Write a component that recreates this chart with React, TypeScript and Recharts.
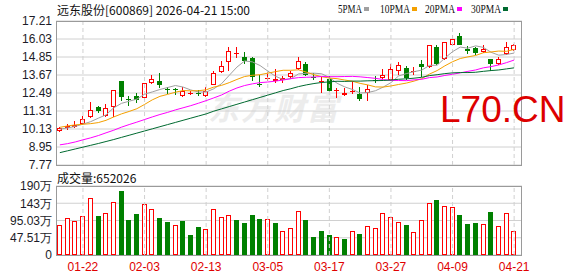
import { Bar, CartesianGrid, ComposedChart, Line, ReferenceLine, XAxis, YAxis } from "recharts";

const dates = [
  "01-19", "01-20", "01-21", "01-22", "01-23", "01-26", "01-27", "01-28", "01-29", "01-30", "02-02", "02-03",
  "02-04", "02-05", "02-06", "02-09", "02-10", "02-11", "02-12", "02-13",
  "02-24", "02-25", "02-26", "02-27", "03-02", "03-03", "03-04", "03-05",
  "03-06", "03-09", "03-10", "03-11", "03-12", "03-13", "03-16", "03-17",
  "03-18", "03-19", "03-20", "03-23", "03-24", "03-25", "03-26", "03-27",
  "03-30", "03-31", "04-01", "04-02", "04-03", "04-07", "04-08", "04-09",
  "04-10", "04-13", "04-14", "04-15", "04-16", "04-17", "04-20", "04-21",
];
const dateTicks = ["01-22", "02-03", "02-13", "03-05", "03-17", "03-27", "04-09", "04-21"];

const opens = [
  10.02, 10.2, 10.28, 10.48, 10.94, 11.55, 10.96, 11.59, 13.28, 12.08, 12.27, 12.14, 13.17, 13.28, 12.72, 12.72, 12.27, 12.44, 12.52, 12.27,
  13.04, 13.84, 14.54, 15.09, 14.83, 14.78, 13.07, 13.41, 13.3, 13.32, 13.54, 14.08, 14.41, 13.51, 13.24, 13.41, 12.62, 12.34, 12.58, 12.42,
  12.49, 13.32, 13.47, 13.32, 13.91, 14.13, 13.89, 14.41, 14.19, 15.5, 14.72, 15.66, 16.2, 15.37, 15.44, 15.18, 14.72, 14.39, 15.05, 15.33,
];
const highs = [
  10.24, 10.46, 10.68, 10.98, 11.9, 11.64, 11.77, 12.7, 13.3, 12.29, 12.51, 13.14, 13.65, 13.8, 12.9, 12.82, 12.9, 12.64, 12.69, 12.86,
  13.95, 14.57, 15.53, 15.5, 15.15, 14.83, 13.69, 13.84, 14.06, 13.62, 13.91, 14.85, 14.5, 13.8, 13.52, 13.62, 12.82, 12.82, 13.25, 12.86,
  12.99, 13.62, 14.08, 14.41, 14.5, 14.24, 14.17, 14.65, 15.63, 15.66, 15.83, 16.31, 16.42, 15.55, 15.53, 15.61, 14.74, 14.83, 15.81, 15.7,
];
const lows = [
  9.96, 10.07, 10.17, 10.41, 10.85, 11.16, 10.92, 10.9, 11.99, 11.64, 11.86, 12.03, 13.06, 12.8, 12.42, 12.38, 12.2, 12.38, 12.31, 12.2,
  12.99, 13.78, 13.95, 14.78, 14.41, 13.25, 12.86, 13.3, 13.14, 13.14, 13.43, 14.02, 13.58, 13.36, 12.49, 12.55, 12.16, 12.32, 12.42, 11.99,
  11.94, 13.14, 13.43, 13.25, 13.69, 13.36, 13.69, 13.52, 14.13, 14.3, 14.67, 15.55, 15.61, 15.05, 14.96, 15.11, 13.91, 14.35, 15.0, 15.27,
];
const closes = [
  10.17, 10.35, 10.38, 10.76, 11.38, 11.31, 11.49, 12.67, 12.21, 12.05, 12.02, 13.12, 13.39, 13.04, 12.66, 12.7, 12.6, 12.46, 12.4, 12.6,
  13.8, 14.24, 15.22, 15.11, 14.57, 13.52, 13.02, 13.45, 13.41, 13.45, 13.8, 14.57, 13.69, 13.45, 13.26, 12.6, 12.66, 12.49, 12.6, 12.1,
  12.75, 13.28, 13.65, 14.08, 14.3, 13.47, 13.93, 14.17, 15.61, 14.39, 15.81, 16.03, 15.66, 15.27, 15.11, 15.35, 14.41, 14.72, 15.48, 15.61,
];

const ma5 = [
  10.12, 10.2, 10.3, 10.45, 10.61, 10.84, 11.06, 11.52, 11.81, 11.95, 12.09, 12.41, 12.56, 12.72, 12.85, 12.98, 12.88, 12.69, 12.56, 12.55,
  12.77, 13.1, 13.65, 14.19, 14.59, 14.53, 14.29, 13.93, 13.59, 13.37, 13.43, 13.74, 13.78, 13.79, 13.75, 13.51, 13.13, 12.89, 12.72, 12.49,
  12.52, 12.64, 12.88, 13.17, 13.61, 13.76, 13.89, 13.99, 14.3, 14.31, 14.78, 15.2, 15.5, 15.43, 15.58, 15.48, 15.16, 14.97, 15.01, 15.11,
];
const ma10 = [
  10.24, 10.33, 10.4, 10.44, 10.48, 10.55, 10.7, 10.92, 11.12, 11.28, 11.46, 11.74, 12.04, 12.27, 12.4, 12.54, 12.65, 12.63, 12.64, 12.7,
  12.88, 12.99, 13.17, 13.38, 13.57, 13.65, 13.69, 13.79, 13.89, 13.98, 13.98, 14.01, 13.86, 13.69, 13.56, 13.47, 13.43, 13.34, 13.26, 13.12,
  13.02, 12.89, 12.88, 12.95, 13.05, 13.14, 13.27, 13.43, 13.73, 13.96, 14.27, 14.54, 14.75, 14.86, 14.95, 15.13, 15.18, 15.24, 15.22, 15.35,
];
const ma20 = [
  9.09, 9.17, 9.28, 9.42, 9.55, 9.7, 9.88, 10.05, 10.25, 10.42, 10.58, 10.75, 10.92, 11.08, 11.22, 11.38, 11.52, 11.66, 11.82, 11.99,
  12.17, 12.36, 12.61, 12.82, 12.98, 13.09, 13.17, 13.21, 13.27, 13.34, 13.43, 13.5, 13.52, 13.54, 13.57, 13.56, 13.56, 13.57, 13.58, 13.55,
  13.5, 13.45, 13.37, 13.32, 13.31, 13.3, 13.35, 13.39, 13.5, 13.54, 13.64, 13.72, 13.81, 13.91, 14.0, 14.14, 14.22, 14.33, 14.48, 14.65,
];
const ma30 = [
  8.58, 8.7, 8.82, 8.94, 9.06, 9.18, 9.31, 9.44, 9.58, 9.72, 9.86, 10.0, 10.14, 10.28, 10.42, 10.56, 10.7, 10.84, 10.98, 11.12,
  11.3, 11.45, 11.6, 11.75, 11.9, 12.05, 12.2, 12.35, 12.5, 12.65, 12.77, 12.91, 13.02, 13.11, 13.18, 13.22, 13.26, 13.25, 13.27, 13.27,
  13.29, 13.3, 13.31, 13.34, 13.39, 13.42, 13.46, 13.52, 13.63, 13.69, 13.76, 13.81, 13.83, 13.83, 13.85, 13.91, 13.96, 14.0, 14.07, 14.14,
];

// 万股
const volumes = [
  82.6, 101, 92.7, 106.5, 156, 107, 114.7, 145, 176, 96.4, 113, 139.5, 125.7, 101, 91, 81.7, 93.6, 55, 77, 70.7,
  125.7, 103.7, 109, 96.4, 89, 110, 99, 98, 88, 65, 73.5, 120, 96.4, 49.6, 66, 55, 48.6, 44, 65, 57.8,
  79, 73.5, 114.7, 103.7, 90, 82.6, 62.5, 95.5, 142, 151.4, 134, 131, 110, 85.4, 88, 84.5, 118, 79, 114.7, 65.2026,
];

const priceTicks = [7.77, 8.95, 10.13, 11.31, 12.49, 13.67, 14.85, 16.03, 17.21];
const volumeTicks = [0, 47.51, 95.03, 142.54, 190.05];

const maSeries = [
  { key: "ma5", name: "5PMA", color: "#a0a0a0" },
  { key: "ma10", name: "10PMA", color: "#f4a000" },
  { key: "ma20", name: "20PMA", color: "#ff00ff" },
  { key: "ma30", name: "30PMA", color: "#006a30" },
];

const UP = "#ff0000";
const DOWN = "#008000";
const GRID = "#d0d0d0";
const FRAME = "#9a9a9a";

const rows = dates.map((date, i) => ({
  date,
  open: opens[i],
  high: highs[i],
  low: lows[i],
  close: closes[i],
  range: [lows[i], highs[i]],
  ma5: ma5[i],
  ma10: ma10[i],
  ma20: ma20[i],
  ma30: ma30[i],
  volume: volumes[i],
  volUp: i === 0 || closes[i] >= closes[i - 1],
}));

const Candle = (props: any) => {
  const { x, y, width, height, payload } = props;
  const { open, close, high, low } = payload;
  const k = high > low ? height / (high - low) : 0;
  const cx = Math.floor(x + width / 2) + 0.5;
  const top = Math.round(y + (high - Math.max(open, close)) * k);
  const bot = Math.round(y + (high - Math.min(open, close)) * k);
  const up = close >= open;
  const color = up ? UP : DOWN;
  return (
    <g>
      <line x1={cx} x2={cx} y1={Math.round(y)} y2={top} stroke={color} />
      <line x1={cx} x2={cx} y1={bot} y2={Math.round(y + height)} stroke={color} />
      {bot - top < 2 ? (
        <line x1={cx - 2.5} x2={cx + 2.5} y1={top + 0.5} y2={top + 0.5} stroke={color} />
      ) : up ? (
        <rect x={cx - 2} y={top + 0.5} width={4} height={bot - top - 1} fill="#fff" stroke={color} />
      ) : (
        <rect x={cx - 2.5} y={top} width={5} height={bot - top} fill={color} />
      )}
    </g>
  );
};

const VolumeBar = (props: any) => {
  const { x, y, width, height, payload } = props;
  const cx = Math.floor(x + width / 2) + 0.5;
  const top = Math.round(y);
  const bot = Math.round(y + height);
  if (payload.volUp) {
    return <rect x={cx - 2} y={top + 0.5} width={4} height={bot - top - 1} fill="#fff" stroke={UP} />;
  }
  return <rect x={cx - 2.5} y={top} width={5} height={bot - top} fill={DOWN} />;
};

const fmtVolume = (v: number) => (v === 0 ? "0" : v >= 100 ? `${Math.round(v)}万` : `${v.toFixed(2)}万`);

const axisText = { fontSize: 12, fill: "#1c1c28", fontFamily: "'Liberation Sans', Arial, sans-serif" };
const cjk = "'Noto Sans CJK SC', 'Liberation Sans', sans-serif";

export default function App() {
  const last = volumes[volumes.length - 1];
  return (
    <div style={{ position: "absolute", left: 0, top: 0, width: 578, height: 276, background: "#fff", overflow: "hidden" }}>
      <div
        style={{
          position: "absolute", left: 208, top: 84, fontSize: 31, fontWeight: 700, fontStyle: "italic",
          color: "#ececec", fontFamily: cjk, letterSpacing: 2,
        }}
      >
        东方财富
      </div>

      <div style={{ position: "absolute", left: 57, top: 1, fontSize: 12, fontFamily: cjk, color: "#111" }}>
        远东股份[600869] 2026-04-21 15:00
      </div>
      <svg style={{ position: "absolute", left: 0, top: 0 }} width={578} height={20}>
        {maSeries.map((s, i) => {
          const x0 = [338, 380, 425, 471][i];
          const w = s.name.length * 6;
          return (
            <g key={s.key}>
              <text x={x0} y={13} fontSize={13} fontFamily="'Liberation Serif', serif" fill="#111" textLength={w} lengthAdjust="spacingAndGlyphs">
                {s.name}
              </text>
              <rect x={x0 + w + 2} y={7} width={5} height={4} fill={s.color} />
            </g>
          );
        })}
      </svg>

      <div style={{ position: "absolute", left: 0, top: 0 }}>
        <ComposedChart width={578} height={180} data={rows} margin={{ top: 21, right: 56, left: 0, bottom: 15 }}>
          <CartesianGrid vertical={false} stroke={GRID} />
          <XAxis dataKey="date" hide padding={{ left: 0, right: 4 }} />
          <YAxis
            domain={[7.77, 17.21]}
            ticks={priceTicks}
            interval={0}
            width={56}
            axisLine={false}
            tickLine={false}
            tickSize={0}
            tickMargin={4}
            tick={axisText}
            tickFormatter={(v: number) => v.toFixed(2)}
          />
          {dateTicks.map((d) => (
            <ReferenceLine key={d} x={d} stroke={GRID} strokeDasharray="4 3" />
          ))}
          {maSeries.map((s) => (
            <Line key={s.key} dataKey={s.key} stroke={s.color} strokeWidth={1} dot={false} isAnimationActive={false} />
          ))}
          <Bar dataKey="range" barSize={5} shape={<Candle />} isAnimationActive={false} />
        </ComposedChart>
      </div>
      <div style={{ position: "absolute", left: 56, top: 21, width: 466, height: 145, border: `1px solid ${FRAME}`, boxSizing: "border-box", pointerEvents: "none" }} />

      <div
        style={{
          position: "absolute", left: 440, top: 89, fontSize: 37, color: "#dd0000",
          fontFamily: "'Liberation Sans', Arial, sans-serif",
        }}
      >
        L70.CN
      </div>

      <div style={{ position: "absolute", left: 57, top: 169, fontSize: 12, fontFamily: cjk, color: "#111" }}>
        成交量:{Math.round(last * 10000)}
      </div>
      <div style={{ position: "absolute", left: 0, top: 170 }}>
        <ComposedChart width={578} height={106} data={rows} margin={{ top: 16, right: 56, left: 0, bottom: 0 }}>
          <CartesianGrid vertical={false} stroke={GRID} />
          <XAxis
            dataKey="date"
            ticks={dateTicks}
            interval={0}
            height={21}
            padding={{ left: 0, right: 4 }}
            axisLine={false}
            tickLine={false}
            tickSize={0}
            tickMargin={7}
            tick={{ fontSize: 12, fill: "#e00000", fontFamily: "'Liberation Sans', Arial, sans-serif" }}
          />
          <YAxis
            domain={[0, 190.05]}
            ticks={volumeTicks}
            interval={0}
            width={56}
            axisLine={false}
            tickLine={false}
            tickSize={0}
            tickMargin={4}
            tick={axisText}
            tickFormatter={fmtVolume}
          />
          {dateTicks.map((d) => (
            <ReferenceLine key={d} x={d} stroke={GRID} strokeDasharray="4 3" />
          ))}
          <Bar dataKey="volume" barSize={5} shape={<VolumeBar />} isAnimationActive={false} />
        </ComposedChart>
      </div>
      <div style={{ position: "absolute", left: 56, top: 186, width: 466, height: 70, border: `1px solid ${FRAME}`, boxSizing: "border-box", pointerEvents: "none" }} />
    </div>
  );
}
